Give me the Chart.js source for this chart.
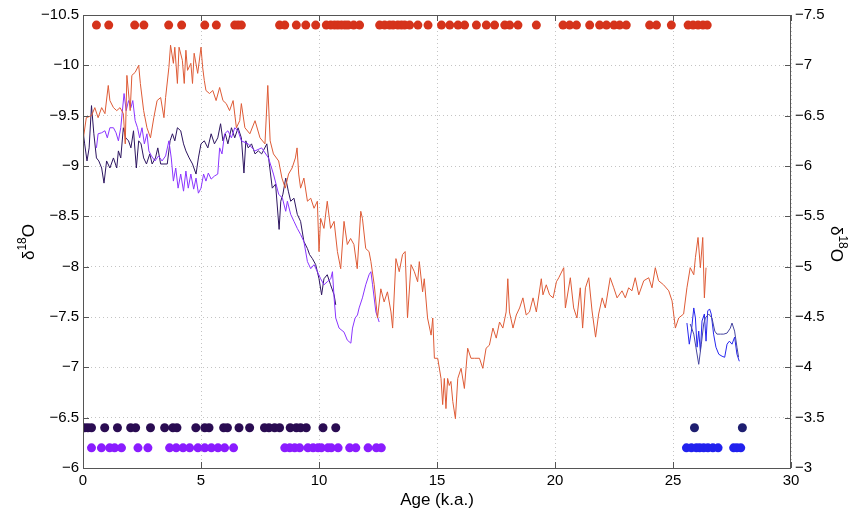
<!DOCTYPE html>
<html>
<head>
<meta charset="UTF-8">
<title>d18O records</title>
<script src="https://cdn.jsdelivr.net/npm/chart.js"></script>
<style>
  body { margin: 0; background: #fff; }
  canvas { display: block; }
</style>
</head>
<body>
<canvas id="chart" width="851" height="511"></canvas>
<script>
// red record (right axis reads left + 3)
const redAge = [0,0.14,0.36,0.5,0.64,0.79,0.93,1.07,1.14,1.29,1.43,1.57,1.71,1.79,1.86,2.0,2.07,2.21,2.36,2.43,
  2.57,2.71,2.86,3.0,3.14,3.29,3.43,3.5,3.64,3.71,3.83,3.89,4.0,4.07,4.21,4.29,4.36,4.43,4.57,4.64,
  4.71,4.86,5.0,5.07,5.14,5.21,5.36,5.5,5.64,5.79,5.93,6.07,6.21,6.36,6.5,6.64,6.71,6.86,7.07,7.29,
  7.5,7.71,7.83,7.93,8.07,8.29,8.43,8.57,8.71,8.86,9.0,9.07,9.14,
  9.22,9.36,9.51,9.65,9.79,9.93,10.0,10.07,10.21,10.35,10.49,10.64,10.78,10.92,11.06,11.2,11.34,11.48,11.62,11.77,
  11.84,11.98,12.12,
  12.2,12.34,12.48,12.62,12.76,12.9,13.05,13.12,13.26,13.4,13.54,13.65,13.75,13.9,14.04,14.18,14.25,14.39,14.46,14.6,
  14.75,14.82,14.89,15.03,15.17,15.24,15.31,15.38,15.45,15.52,15.59,15.67,15.78,15.88,16.02,16.16,16.3,16.44,16.59,16.8,
  16.94,17.08,17.22,17.37,17.51,17.65,17.79,17.93,18.0,18.07,18.22,18.36,18.5,18.64,18.78,18.92,19.07,19.21,19.42,19.49,
  19.63,19.77,19.92,20.06,
  20.16,20.37,20.44,20.65,20.79,20.93,21.07,21.17,21.29,21.43,21.57,21.72,21.85,22.0,22.13,22.34,22.49,22.63,22.84,22.98,
  23.12,23.26,23.4,23.55,23.76,23.97,24.11,24.25,24.39,24.6,24.82,24.96,25.1,25.24,25.45,25.59,25.73,25.88,25.95,26.06,
  26.16,26.26,26.33,26.4];
const redVal = [-9.25,-9.48,-9.5,-9.58,-9.48,-9.58,-9.52,-9.8,-9.65,-9.58,-9.55,-9.58,-9.52,-9.22,-9.9,-9.55,-9.9,-9.93,-10.0,-9.82,
  -9.55,-9.38,-9.28,-9.48,-9.65,-9.68,-9.48,-9.68,-9.98,-10.2,-10.02,-10.18,-9.82,-10.18,-10.05,-9.82,-10.15,-9.95,-10.02,-9.82,
  -10.12,-9.92,-10.18,-9.98,-9.85,-9.75,-9.72,-9.75,-9.65,-9.78,-9.65,-9.62,-9.55,-9.65,-9.38,-9.45,-9.62,-9.38,-9.32,-9.45,
  -9.28,-9.22,-9.8,-9.25,-9.12,-9.05,-8.88,-8.78,-8.92,-8.98,-9.08,-9.18,-8.92,
  -8.78,-8.88,-8.65,-8.68,-8.58,-8.65,-8.15,-8.48,-8.38,-8.65,-8.38,-8.45,-8.15,-7.98,-8.45,-8.22,-8.28,-8.22,-7.98,-8.55,
  -8.48,-8.18,-8.15,
  -8.05,-7.82,-7.49,-7.78,-7.65,-7.75,-7.55,-7.39,-8.08,-7.95,-8.12,-8.15,-7.49,-8.02,-7.95,-7.85,-8.05,-7.75,-7.88,-7.49,
  -7.32,-7.49,-7.09,-7.09,-6.89,-6.63,-6.89,-6.59,-6.89,-6.82,-6.86,-6.66,-6.49,-6.89,-6.99,-6.79,-7.19,-7.09,-7.09,-7.09,
  -6.99,-7.19,-7.22,-7.39,-7.29,-7.45,-7.39,-7.55,-7.88,-7.55,-7.39,-7.52,-7.59,-7.69,-7.52,-7.55,-7.69,-7.55,-7.88,-7.72,
  -7.82,-7.72,-7.69,-7.85,
  -7.89,-7.99,-7.59,-7.89,-7.59,-7.49,-7.79,-7.39,-7.79,-7.89,-7.56,-7.3,-7.53,-7.69,-7.59,-7.89,-7.79,-7.69,-7.76,-7.69,
  -7.79,-7.76,-7.89,-7.72,-7.86,-7.89,-7.79,-7.99,-7.86,-7.82,-7.76,-7.66,-7.39,-7.49,-7.53,-7.79,-7.99,-7.92,-8.09,-8.29,
  -7.99,-8.29,-7.69,-7.99];

const darkAge = [0,0.07,0.17,0.26,0.36,0.46,0.57,0.67,0.79,0.89, 1.0,1.14,1.29,1.43,1.5,1.6,1.71,1.81,1.93,2.03,
  2.14,2.26,2.36,2.46,2.57,2.69,2.83,2.93,3.07,3.17, 3.29,3.43,3.57,3.69,3.79,3.89,4.0,4.14,4.26,4.36,
  4.5,4.64,4.79,4.89,5.0,5.14,5.29,5.43,5.57,5.71, 5.83,5.93,6.03,6.14,6.29,6.43,6.57,6.71,6.82,6.9,
  7.0,7.14,7.29,7.43,7.57,7.79,7.88,8.02,8.16,8.31, 8.38,8.47,8.59,8.7,8.8,8.94,9.08,9.22,9.36,9.51,
  9.6,9.72,9.86,10.0,10.11,10.21,10.35,10.49,10.64,10.71];
const darkVal = [-9.35,-9.22,-9.05,-9.18,-9.6,-9.32,-9.08,-9.05,-8.98,-8.83, -9.05,-8.98,-9.08,-8.98,-9.15,-9.08,-9.38,-9.28,-9.25,-9.18,
  -9.35,-8.98,-9.25,-9.22,-9.08,-9.02,-9.12,-9.02,-9.08,-9.18, -9.02,-9.02,-9.02,-9.25,-9.32,-9.25,-9.38,-9.35,-9.22,-9.15,
  -9.08,-9.02,-8.92,-9.08,-9.22,-9.25,-9.18,-9.32,-9.22,-9.28, -9.42,-9.25,-9.32,-9.22,-9.38,-9.28,-9.38,-9.28,-8.93,-9.25,
  -9.18,-9.22,-9.12,-9.15,-9.12,-9.22,-9.05,-8.78,-8.82,-8.37, -8.65,-8.72,-8.88,-8.75,-8.65,-8.68,-8.52,-8.45,-8.25,-8.18,
  -8.12,-8.08,-8.02,-7.88,-7.72,-7.88,-7.92,-7.82,-7.72,-7.62];

const violetAge = [0.57,0.64,0.79,0.93,1.03,1.14,1.29,1.4,1.5,1.6, 1.74,1.83,1.93,2.03,2.11,2.21,2.31,2.4,2.5,2.6,
  2.71,2.79,2.9,3.05,3.2,3.35,3.5,3.64,3.74,3.83, 3.93,4.03,4.14,4.26,4.36,4.46,4.57,4.69,4.79,4.89,
  5.0,5.11,5.21,5.31,5.43,5.57,5.71,5.79,5.89,6.0, 6.14,6.29,6.43,6.57,6.71,7.0,7.29,7.57,7.86,8.07,
  8.29,8.45,8.59,8.66,8.8,8.94,9.08,9.22,9.36,9.51, 9.65,9.79,9.93,10.07,10.21,10.35,10.5,10.57,10.64,10.71,
  10.85,11.06,11.2,11.35,11.42,11.53,11.63,11.7,11.84,11.98, 12.12,12.2,12.27,12.41,12.55];
const violetVal = [-9.18,-9.32,-9.33,-9.35,-9.28,-9.38,-9.38,-9.33,-9.25,-9.38, -9.72,-9.55,-9.65,-9.58,-9.65,-9.45,-9.38,-9.28,-9.38,-9.22,
  -9.32,-9.15,-9.1,-9.05,-9.1,-9.05,-9.1,-9.25,-9.08,-8.85, -8.98,-8.78,-8.92,-8.75,-8.95,-8.78,-8.92,-8.77,-8.88,-8.73,
  -8.78,-8.92,-8.85,-8.93,-8.87,-8.9,-8.92,-9.18,-9.12,-9.32, -9.35,-9.28,-9.38,-9.35,-9.25,-9.22,-9.15,-9.18,-9.08,-8.92,
  -8.72,-8.68,-8.55,-8.65,-8.52,-8.45,-8.38,-8.32,-8.25,-8.05, -7.98,-8.02,-7.95,-7.88,-7.82,-7.85,-7.88,-7.95,-7.69,-7.49,
  -7.39,-7.35,-7.27,-7.24,-7.39,-7.49,-7.52,-7.59,-7.69,-7.82, -7.92,-7.95,-7.82,-7.55,-7.45];

const blueAge = [25.59,25.69,25.78,25.88,25.95,26.02,26.09,26.16,26.23,26.33, 26.4,26.47,26.55,26.62,26.72,26.82,26.94,27.08,27.19,27.29,
  27.39,27.5,27.61,27.71,27.81];
const blueVal = [-7.44,-7.23,-7.36,-7.59,-7.49,-7.2,-7.36,-7.16,-7.46,-7.53, -7.26,-7.56,-7.58,-7.53,-7.33,-7.2,-7.13,-7.11,-7.1,-7.23,
  -7.26,-7.23,-7.3,-7.13,-7.06];

const navyAge = [25.73,25.88,25.97,26.09,26.2,26.3,26.37,26.51,26.65,26.77, 26.86,27.01,27.15,27.29,27.43,27.5,27.61,27.71,27.78];
const navyVal = [-7.43,-7.33,-7.2,-7.03,-7.23,-7.43,-7.49,-7.53,-7.49,-7.36, -7.33,-7.33,-7.33,-7.34,-7.39,-7.44,-7.36,-7.2,-7.1];

// dating points (age, drawn at a fixed level)
const redDots = [0.57,1.09,2.19,2.58,3.63,4.18,5.16,5.65,6.43,6.57,6.71,8.33,8.55,9.04,9.44,9.86,10.31,10.5,10.66,10.8,
  10.95,11.1,11.23,11.47,11.72,12.57,12.78,12.99,13.14,13.34,13.49,13.63,13.84,14.19,14.62,15.19,15.54,15.89,16.17,16.67,
  17.09,17.44,17.87,18.08,18.43,19.21,20.34,20.62,20.91,21.47,21.89,22.18,22.5,22.74,23.02,24.01,24.3,24.93,25.64,25.85,
  26.06,26.27,26.45];
const darkDots = [0.07,0.21,0.36,0.92,1.46,2.02,2.23,2.86,3.46,3.81,3.98,4.78,5.16,5.34,5.96,6.12,6.61,7.06,7.69,7.88,
  8.12,8.33,8.78,9.04,9.22,9.46,10.17,10.71];
const violetDots = [0.36,0.78,1.13,1.34,1.63,2.33,2.75,3.67,3.95,4.24,4.52,4.87,5.16,5.44,5.72,6.0,6.38,8.55,8.76,8.97,
  9.18,9.53,9.75,9.96,10.1,10.38,10.52,10.81,11.3,11.56,12.08,12.43,12.64];
const blueDots = [25.57,25.78,25.99,26.13,26.3,26.48,26.69,26.91,27.57,27.71,27.87];
const navyDots = [25.91,27.94];
const topLevel = -10.4, upperLevel = -6.4, lowerLevel = -6.2;

const xTicks = [0, 5, 10, 15, 20, 25, 30];
const leftTicks = [-10.5, -10, -9.5, -9, -8.5, -8, -7.5, -7, -6.5, -6];
const rightTicks = [-7.5, -7, -6.5, -6, -5.5, -5, -4.5, -4, -3.5, -3];

const pts = (xs, ys) => xs.map((x, i) => ({x: x, y: ys[i]}));
const row = (xs, lv) => xs.map(x => ({x: x, y: lv}));
const fmt = v => String(Number(v.toFixed(1))).replace('-', '\u2212');

function line(data, color) {
  return { type: 'line', data: data, borderColor: color, borderWidth: 1, pointRadius: 0, tension: 0, yAxisID: 'y' };
}
function dots(data, color) {
  return { type: 'scatter', data: data, backgroundColor: color, borderWidth: 0, pointRadius: 4.5, yAxisID: 'y' };
}

function drawLabel(ctx, x, y, rot) {
  ctx.save();
  ctx.translate(x, y);
  ctx.rotate(rot);
  ctx.fillStyle = '#000';
  ctx.textBaseline = 'alphabetic';
  const big = '17px "Liberation Sans", Arial, sans-serif';
  const small = '12px "Liberation Sans", Arial, sans-serif';
  ctx.font = big; const wd = ctx.measureText('\u03b4').width, wo = ctx.measureText('O').width;
  ctx.font = small; const ws = ctx.measureText('18').width;
  let cx = -(wd + ws + wo) / 2;
  ctx.font = big; ctx.fillText('\u03b4', cx, 6); cx += wd;
  ctx.font = small; ctx.fillText('18', cx, -2); cx += ws;
  ctx.font = big; ctx.fillText('O', cx, 6);
  ctx.restore();
}

const frame = {
  id: 'frame',
  afterDraw(chart) {
    const {ctx, chartArea: a, scales} = chart;
    ctx.save();
    ctx.strokeStyle = '#555';
    ctx.lineWidth = 1;
    ctx.strokeRect(a.left + 0.5, a.top + 0.5, a.right - a.left - 1, a.bottom - a.top);
    ctx.beginPath();
    xTicks.forEach(v => {
      const px = Math.round(scales.x.getPixelForValue(v)) + 0.5;
      ctx.moveTo(px, a.bottom); ctx.lineTo(px, a.bottom - 6);
      ctx.moveTo(px, a.top); ctx.lineTo(px, a.top + 6);
    });
    leftTicks.forEach(v => {
      const py = Math.round(scales.y.getPixelForValue(v)) + 0.5;
      ctx.moveTo(a.left, py); ctx.lineTo(a.left + 6, py);
    });
    rightTicks.forEach(v => {
      const py = Math.round(scales.y2.getPixelForValue(v)) + 0.5;
      ctx.moveTo(a.right, py); ctx.lineTo(a.right - 6, py);
    });
    ctx.stroke();
    ctx.restore();
    drawLabel(ctx, 28, 242, -Math.PI / 2);
    drawLabel(ctx, 837, 244, Math.PI / 2);
  }
};

const tickFont = { family: '"Liberation Sans", Arial, sans-serif', size: 15 };

new Chart(document.getElementById('chart'), {
  data: {
    datasets: [
      line(pts(redAge, redVal), '#de5b36'),
      line(pts(violetAge, violetVal), '#8a35ff'),
      line(pts(darkAge, darkVal), '#2d1560'),
      line(pts(navyAge, navyVal), '#4646a0'),
      line(pts(blueAge, blueVal), '#2626ee'),
      dots(row(redDots, topLevel), '#d5331b'),
      dots(row(darkDots, upperLevel), '#2a0c52'),
      dots(row(violetDots, lowerLevel), '#8a1cff'),
      dots(row(navyDots, upperLevel), '#1e1e70'),
      dots(row(blueDots, lowerLevel), '#2121ee')
    ]
  },
  options: {
    responsive: false,
    animation: false,
    devicePixelRatio: 1,
    layout: { padding: { top: 15, left: 0, right: 0, bottom: 0 } },
    plugins: { legend: { display: false }, tooltip: { enabled: false } },
    scales: {
      x: {
        type: 'linear', min: 0, max: 30,
        ticks: { stepSize: 5, color: '#000', font: tickFont, padding: 4, maxRotation: 0 },
        grid: { color: '#c4c4c4', drawTicks: false },
        border: { display: false, dash: [1, 3] },
        title: { display: true, text: 'Age (k.a.)', color: '#000', font: { family: tickFont.family, size: 17 }, padding: 0 },
        afterFit(s) { s.height = 43; }
      },
      y: {
        type: 'linear', position: 'left', min: -10.5, max: -6, reverse: true,
        ticks: { stepSize: 0.5, color: '#000', font: tickFont, padding: 4, callback: fmt },
        grid: { color: '#c4c4c4', drawTicks: false },
        border: { display: false, dash: [1, 3] },
        afterFit(s) { s.width = 83; }
      },
      y2: {
        type: 'linear', position: 'right', min: -7.5, max: -3, reverse: true,
        ticks: { stepSize: 0.5, color: '#000', font: tickFont, padding: 4, callback: fmt },
        grid: { display: false, drawTicks: false },
        border: { display: false },
        afterFit(s) { s.width = 60; }
      }
    }
  },
  plugins: [frame]
});
</script>
</body>
</html>
